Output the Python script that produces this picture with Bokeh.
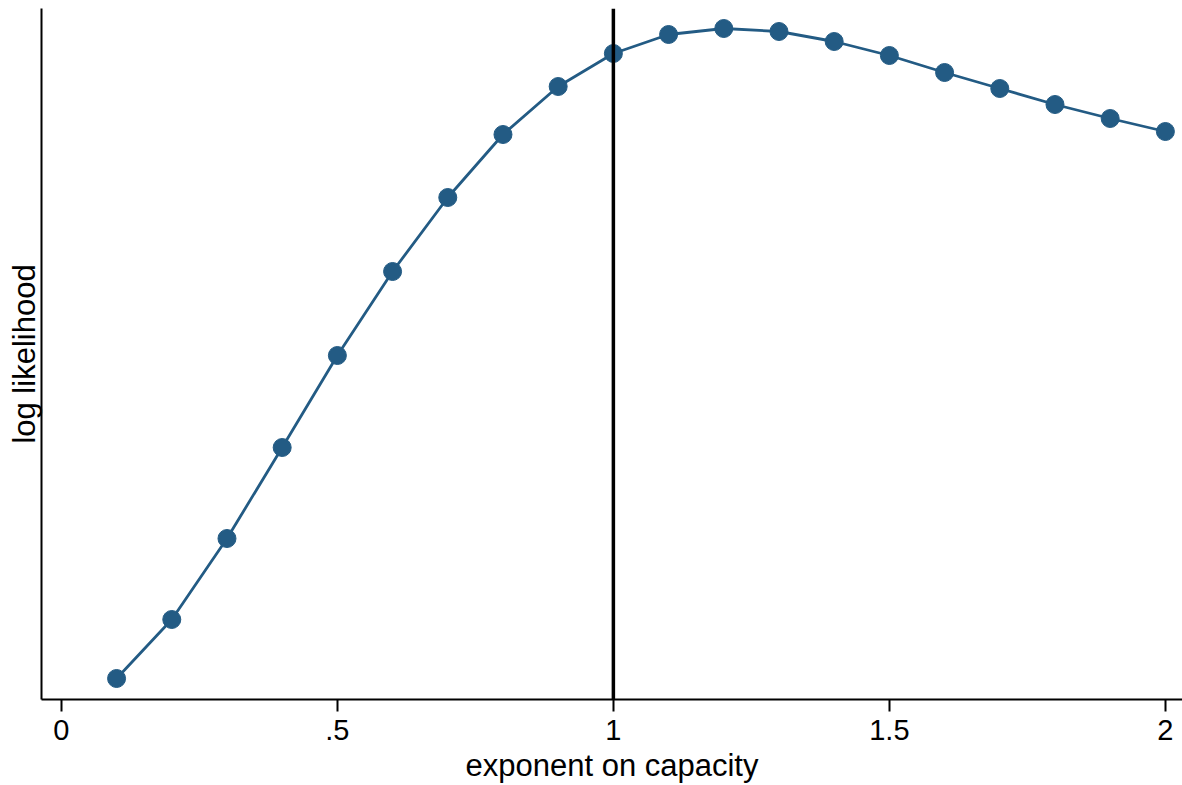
from bokeh.plotting import figure
from bokeh.models import Span, Range1d, FixedTicker
from bokeh.embed import file_html
from bokeh.resources import INLINE

exponent = [0.1, 0.2, 0.3, 0.4, 0.5, 0.6, 0.7, 0.8, 0.9, 1.0,
            1.1, 1.2, 1.3, 1.4, 1.5, 1.6, 1.7, 1.8, 1.9, 2.0]
loglik = [-678, -619, -538, -447, -355, -271, -197, -134, -86, -53,
          -34, -28, -31, -41, -55, -72, -88, -104, -118, -131]
x_ticks = [0, 0.5, 1, 1.5, 2]
x_tick_labels = {0: "0", 0.5: ".5", 1: "1", 1.5: "1.5", 2: "2"}
ref_x = 1.0

COLOR = "#235b84"
FONT = "Liberation Sans"

p = figure(frame_width=1141, frame_height=691, output_backend="svg",
           toolbar_location=None,
           x_range=Range1d(-0.036, 2.031), y_range=Range1d(-699, -8),
           min_border_left=41, min_border_top=8, min_border_right=0,
           min_border_bottom=0)
p.outline_line_color = None
p.grid.visible = False
p.background_fill_color = "white"
p.border_fill_color = "white"

p.line(exponent, loglik, line_color=COLOR, line_width=2.8)
p.scatter(exponent, loglik, size=18, fill_color=COLOR, line_color=COLOR)

p.add_layout(Span(location=ref_x, dimension="height", line_color="black",
                  line_width=3.5))

xa = p.xaxis[0]
xa.ticker = FixedTicker(ticks=x_ticks)
xa.major_label_overrides = x_tick_labels
xa.axis_label = "exponent on capacity"
xa.axis_label_text_font = FONT
xa.axis_label_text_font_size = "31px"
xa.axis_label_text_font_style = "normal"
xa.axis_label_text_color = "black"
xa.axis_label_standoff = 5
xa.major_label_text_font = FONT
xa.major_label_text_font_size = "29px"
xa.major_label_text_color = "black"
xa.major_label_standoff = 8
xa.major_tick_out = 12
xa.major_tick_in = 0
xa.major_tick_line_width = 2
xa.minor_tick_line_color = None
xa.axis_line_width = 2
xa.axis_line_color = "black"

ya = p.yaxis[0]
ya.ticker = FixedTicker(ticks=[])
ya.axis_label = "log likelihood"
ya.axis_label_text_font = FONT
ya.axis_label_text_font_size = "31px"
ya.axis_label_text_font_style = "normal"
ya.axis_label_text_color = "black"
ya.axis_label_standoff = 0
ya.major_tick_line_color = None
ya.minor_tick_line_color = None
ya.major_tick_out = 0
ya.major_tick_in = 0
ya.axis_line_width = 2
ya.axis_line_color = "black"

open("out.html", "w").write(file_html(p, INLINE))
